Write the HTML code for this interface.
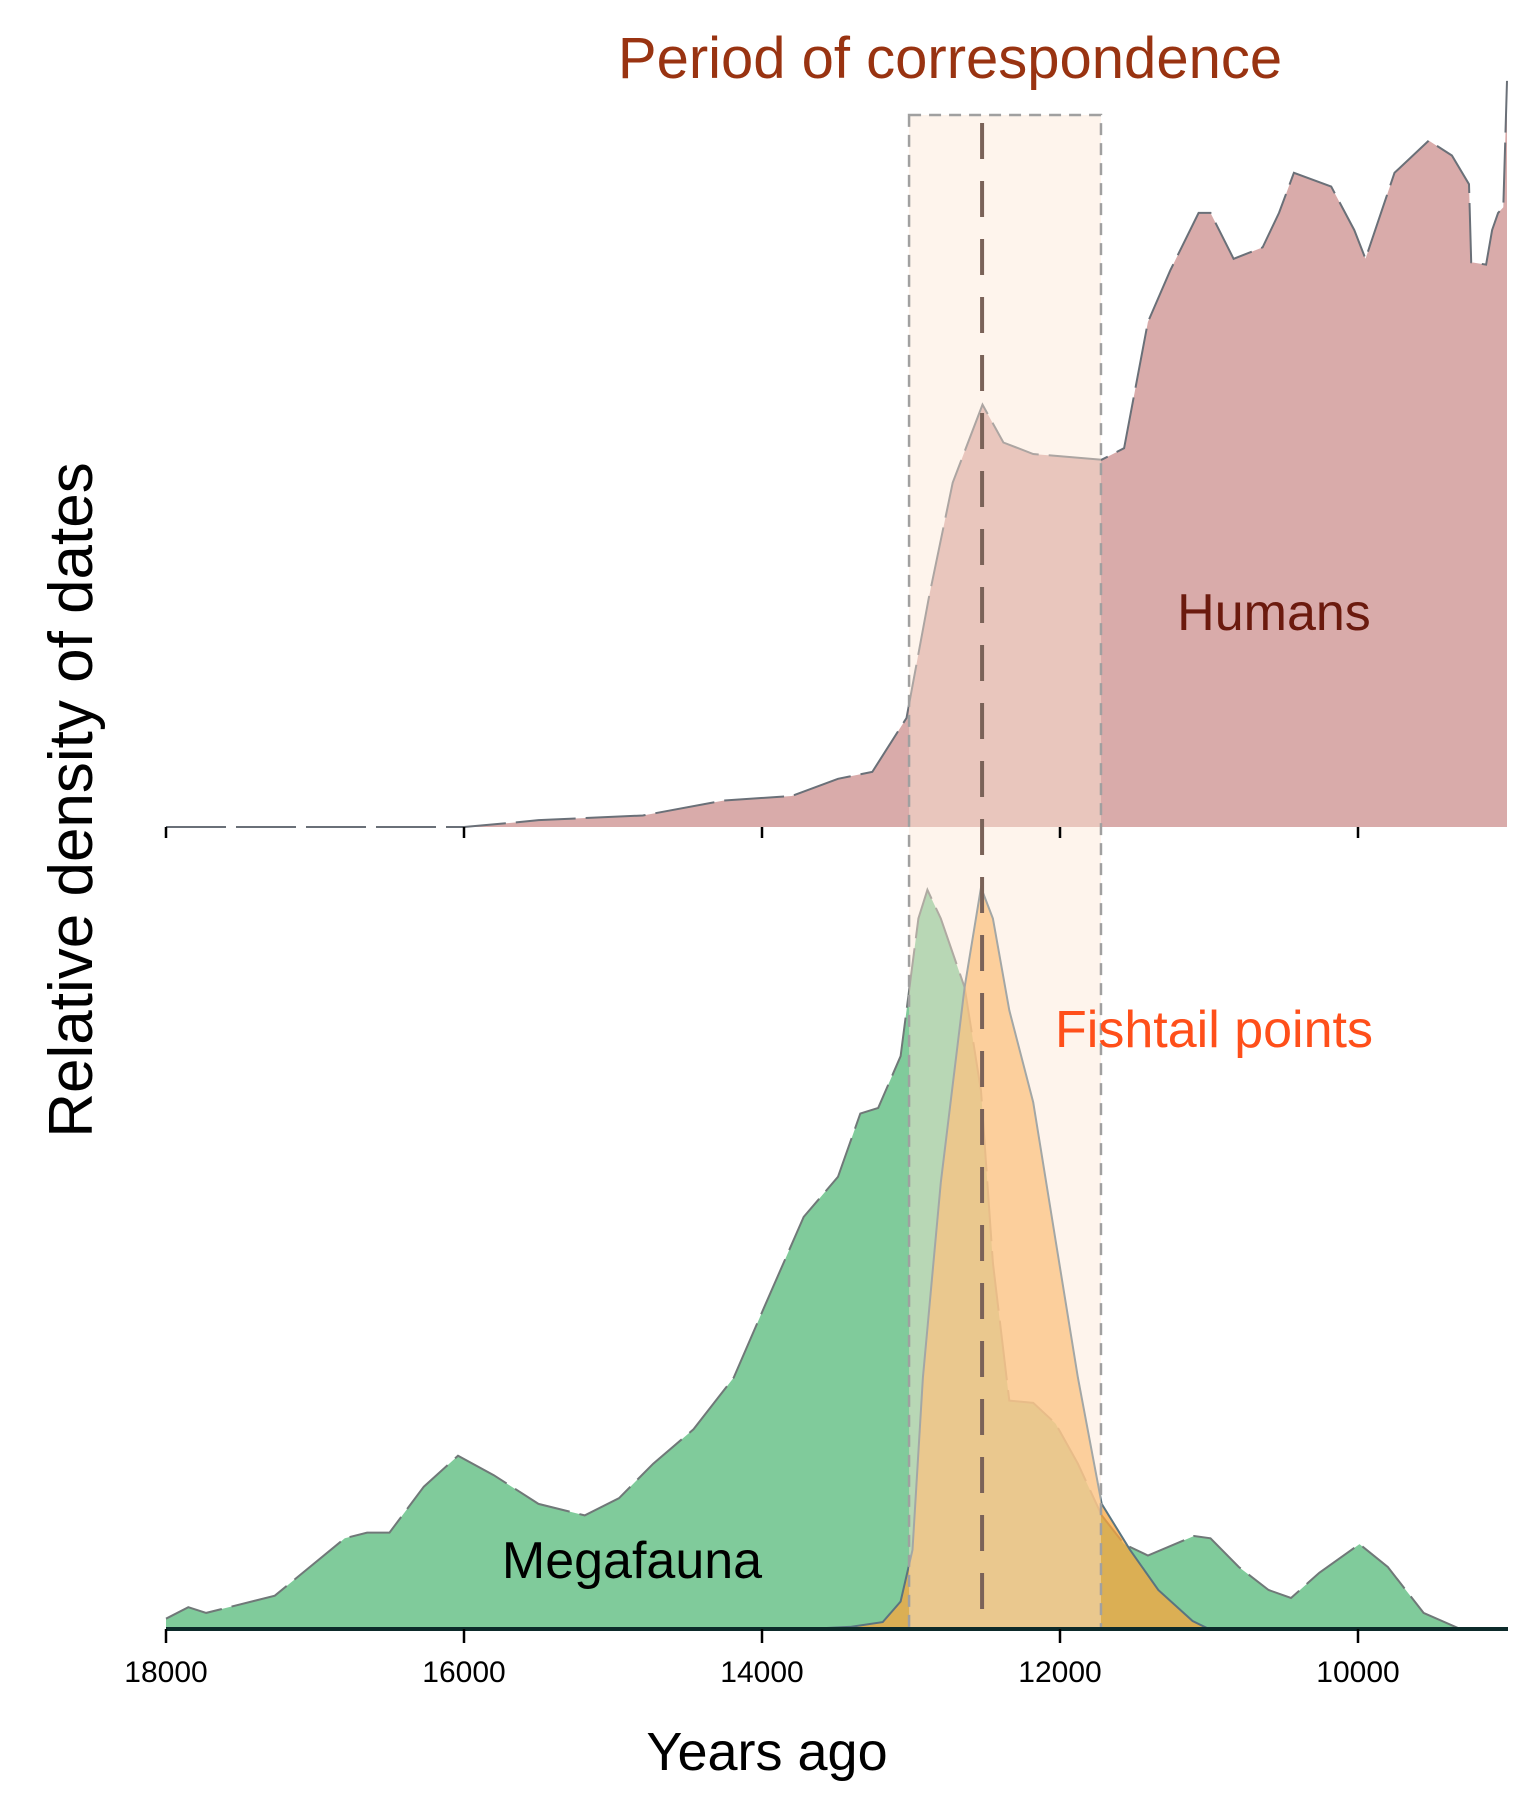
<!DOCTYPE html>
<html><head><meta charset="utf-8"><style>
html,body{margin:0;padding:0;background:#fff;}
svg{display:block;font-family:"Liberation Sans","DejaVu Sans",sans-serif;}
</style></head><body>
<svg id="chart" width="1513" height="1798" viewBox="0 0 1513 1798" xmlns="http://www.w3.org/2000/svg">
<g id="layer-top"></g>
<g id="layer-bottom"></g>
<g id="layer-band"></g>
<g id="layer-axes"></g>
<text x="950" y="78" text-anchor="middle" font-size="58" fill="#993311">Period of correspondence</text>
<text x="1274" y="630" text-anchor="middle" font-size="52" fill="#6b1a0e">Humans</text>
<text x="1214" y="1047" text-anchor="middle" font-size="52" fill="#ff4f1a">Fishtail points</text>
<text x="632" y="1578" text-anchor="middle" font-size="52" fill="#000">Megafauna</text>
<text transform="translate(92,800) rotate(-90)" text-anchor="middle" font-size="62" fill="#000">Relative density of dates</text>
<text x="767" y="1770" text-anchor="middle" font-size="54" fill="#000">Years ago</text>
</svg>
<script>
const humanYears=[18000,16000,15650,15500,14800,14260,14030,13800,13490,13260,13030,12880,12720,12520,12380,12180,11720,11570,11410,11260,11070,10990,10835,10640,10530,10430,10180,10025,9950,9755,9525,9370,9255,9240,9140,9100,9060,9025,9000];
const humanVals=[0,0,4,6,10,23,25,27,42,48,95,200,300,368,335,325,320,330,440,485,535,535,495,505,535,570,558,520,495,570,598,585,560,492,490,520,535,540,650];
const megaYears=[18000,17850,17730,17270,16800,16650,16500,16270,16040,15800,15500,15190,14960,14730,14460,14190,13990,13720,13490,13340,13220,13070,12950,12890,12800,12640,12530,12450,12340,12180,12030,11880,11720,11570,11410,11100,10990,10800,10600,10450,10260,9990,9800,9560,9330,9000];
const megaVals=[9,19,14,29,79,84,84,124,151,134,109,99,114,144,174,219,279,359,394,449,454,499,619,644,619,559,469,319,199,197,179,144,99,74,64,81,79,54,34,27,49,74,54,14,1,0];
const fishYears=[18000,13700,13400,13190,13070,12990,12920,12800,12640,12530,12450,12340,12180,12030,11880,11720,11530,11340,11110,11000,9000];
const fishVals=[0,0,2,6,24,69,219,389,559,646,619,539,459,339,219,109,69,34,7,0,0];
const tickYears=[18000,16000,14000,12000,10000];
const bandStart=13013, bandEnd=11725, markerYear=12523;

const S=1.1478;
const xs=yr=>166+(18000-yr)*0.149;
const yTop=v=>827-v*S;
const yBot=v=>1629-v*S;
const NS="http://www.w3.org/2000/svg";
function mk(tag,attrs,parent){const e=document.createElementNS(NS,tag);for(const k in attrs)e.setAttribute(k,attrs[k]);parent.appendChild(e);return e;}
function area(years,vals,yf,base){let d="M"+xs(years[0])+","+base;years.forEach((yr,i)=>{d+=" L"+xs(yr).toFixed(1)+","+yf(vals[i]).toFixed(1);});d+=" L"+xs(years[years.length-1])+","+base+" Z";return d;}
function line(years,vals,yf){return years.map((yr,i)=>(i?"L":"M")+xs(yr).toFixed(1)+","+yf(vals[i]).toFixed(1)).join(" ");}

const topLayer=document.getElementById('layer-top');
let p=mk('path',{d:area(humanYears,humanVals,yTop,827),fill:'#d9abaa'},topLayer);


p=mk('path',{d:line(humanYears,humanVals,yTop),fill:'none',stroke:'#6a7078','stroke-width':2,'stroke-dasharray':'60 10'},topLayer);



const botLayer=document.getElementById('layer-bottom');
p=mk('path',{d:area(megaYears,megaVals,yBot,1629),fill:'#80cb9b'},botLayer);


p=mk('path',{d:line(megaYears,megaVals,yBot),fill:'none',stroke:'#707878','stroke-width':2,'stroke-dasharray':'60 10'},botLayer);


p=mk('path',{d:area(fishYears,fishVals,yBot,1629),fill:'rgba(250,165,60,0.75)'},botLayer);


p=mk('path',{d:line(fishYears,fishVals,yBot),fill:'none',stroke:'#5a7480','stroke-width':2},botLayer);



const bandLayer=document.getElementById('layer-band');
p=mk('rect',{x:xs(bandStart),y:115,width:xs(bandEnd)-xs(bandStart),height:1514,fill:'rgba(253,230,212,0.45)',stroke:'#a0a0a0','stroke-width':2.5,'stroke-dasharray':'12 8'},bandLayer);


p=mk('line',{x1:xs(markerYear),x2:xs(markerYear),y1:123,y2:1629,stroke:'#7a6258','stroke-width':4,'stroke-dasharray':'36 22'},bandLayer);



const axLayer=document.getElementById('layer-axes');
p=mk('line',{x1:166,x2:1508,y1:1629,y2:1629,stroke:'#0d2a2a','stroke-width':4},axLayer);


tickYears.forEach(t=>{
  let tk=mk('line',{x1:xs(t),x2:xs(t),y1:1629,y2:1643,stroke:'#000','stroke-width':2.5},axLayer);
  
  
  let tk2=mk('line',{x1:xs(t),x2:xs(t),y1:827,y2:838,stroke:'#000','stroke-width':2.5},axLayer);
  
  
  let lb=mk('text',{x:xs(t),y:1682,'text-anchor':'middle','font-size':30,fill:'#000'},axLayer);
  lb.textContent=t;
  
  
});
</script>
</body></html>
